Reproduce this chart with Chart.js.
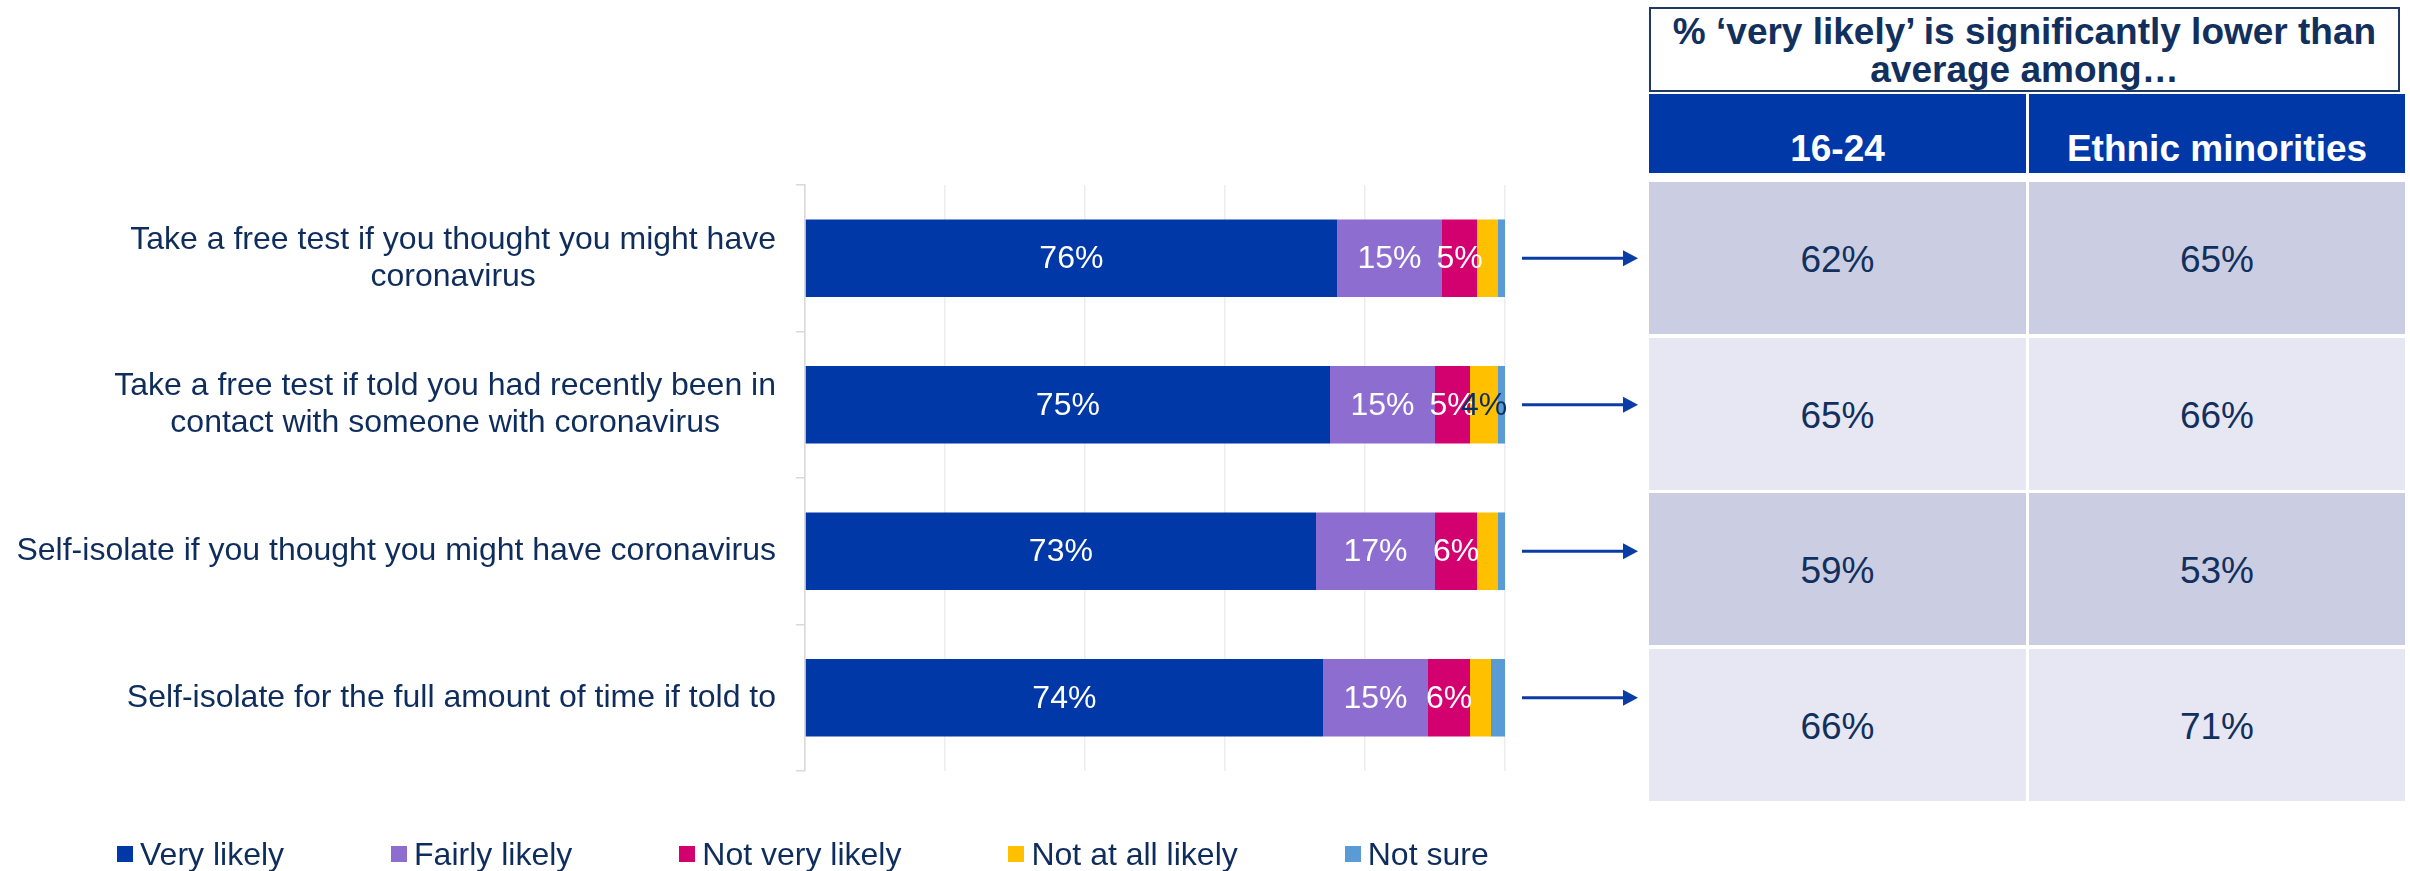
<!DOCTYPE html>
<html>
<head>
<meta charset="utf-8">
<title>Likelihood of testing and self-isolating</title>
<script src="https://cdn.jsdelivr.net/npm/chart.js@4.4.1/dist/chart.umd.min.js"></script>
<style>
  html, body { margin: 0; padding: 0; background: #fff; }
  body {
    width: 2410px; height: 871px; position: relative; overflow: hidden;
    font-family: "Liberation Sans", Arial, sans-serif; color: #0F2D5C;
  }
  #chartBox { position: absolute; left: 0; top: 0; width: 1640px; height: 871px; }

  /* legend under the bars */
  #legend { position: absolute; left: 117px; top: 838px; height: 32px; display: flex; gap: 107px; }
  .legend-item { display: flex; align-items: center; font-size: 32px; line-height: 32px; white-space: nowrap; }
  .legend-box { width: 16px; height: 16px; margin-right: 7px; flex: none; }

  /* sub-group table on the right */
  #sigTable { position: absolute; left: 1649px; top: 7px; width: 756px; }
  .sig-title {
    box-sizing: border-box; width: 751px; height: 85px; padding-top: 4px;
    border: 2.5px solid #1F3864; text-align: center;
    font-weight: bold; font-size: 37px; line-height: 38px; color: #12305E;
  }
  .sig-head, .sig-body { display: grid; grid-template-columns: 377px 376px; column-gap: 3px; }
  .sig-head { margin-top: 2px; grid-template-rows: 79px; }
  .sig-body { margin-top: 9px; grid-template-rows: repeat(4, 152px); row-gap: 3.7px; }
  .sig-head div {
    background: #0038A8; color: #fff; font-weight: bold; font-size: 37px; line-height: 40px;
    display: flex; align-items: flex-end; justify-content: center; padding-bottom: 4px; box-sizing: border-box;
  }
  .sig-body div {
    font-size: 37px; display: flex; align-items: center; justify-content: center; color: #12305E;
    padding-top: 4px; box-sizing: border-box;
  }
  .sig-body .dark { background: #CBCEE2; }
  .sig-body .light { background: #E6E7F2; }
</style>
</head>
<body>
<div id="chartBox"><canvas id="likelyChart"></canvas></div>
<div id="legend"></div>
<div id="sigTable">
  <div class="sig-title" id="sigTitle"></div>
  <div class="sig-head" id="sigHead"></div>
  <div class="sig-body" id="sigBody"></div>
</div>

<script>
// ---- data ----
const categories = [
  ['Take a free test if you thought you might have', 'coronavirus'],
  ['Take a free test if told you had recently been in', 'contact with someone with coronavirus'],
  ['Self-isolate if you thought you might have coronavirus'],
  ['Self-isolate for the full amount of time if told to']
];
const seriesNames = ['Very likely', 'Fairly likely', 'Not very likely', 'Not at all likely', 'Not sure'];
const veryLikely     = [76, 75, 73, 74];
const fairlyLikely   = [15, 15, 17, 15];
const notVeryLikely  = [5, 5, 6, 6];
const notAtAllLikely = [3, 4, 3, 3];
const notSure        = [1, 1, 1, 2];
const xTicks = [0, 20, 40, 60, 80, 100];

const tableTitleLines = ['% ‘very likely’ is significantly lower than', 'average among…'];
const groupNames = ['16-24', 'Ethnic minorities'];
const youngVeryLikely    = [62, 65, 59, 66];
const minorityVeryLikely = [65, 66, 53, 71];

// ---- styling ----
const navy = '#0F2D5C';
const seriesColors = ['#0038A8', '#8D6ED0', '#D3006F', '#FFC000', '#5B9BD5'];
const valueLabelColors = ['#ffffff', '#ffffff', '#ffffff', navy, navy];
const fontFamily = '"Liberation Sans", Arial, sans-serif';
const minLabelValue = 4;

const seriesValues = [veryLikely, fairlyLikely, notVeryLikely, notAtAllLikely, notSure];

// multi-line category labels: block right-aligned to the axis, lines centred in the block
const categoryLabels = {
  id: 'categoryLabels',
  afterDraw(chart) {
    const { ctx, chartArea } = chart;
    const y = chart.scales.y;
    const lineHeight = 37;
    const right = chartArea.left - 29;
    ctx.save();
    ctx.font = '32px ' + fontFamily;
    ctx.fillStyle = navy;
    ctx.textAlign = 'center';
    ctx.textBaseline = 'middle';
    categories.forEach((lines, i) => {
      const widest = Math.max(...lines.map(l => ctx.measureText(l).width));
      const cx = right - widest / 2;
      const top = y.getPixelForValue(i) - (lines.length - 1) * lineHeight / 2;
      lines.forEach((l, k) => ctx.fillText(l, cx, top + k * lineHeight));
    });
    ctx.restore();
  }
};

// percentage labels inside the segments
const valueLabels = {
  id: 'valueLabels',
  afterDatasetsDraw(chart) {
    const { ctx } = chart;
    ctx.save();
    ctx.font = '32px ' + fontFamily;
    ctx.textAlign = 'center';
    ctx.textBaseline = 'middle';
    chart.data.datasets.forEach((ds, d) => {
      chart.getDatasetMeta(d).data.forEach((bar, i) => {
        const v = ds.data[i];
        if (v < minLabelValue) return;
        const c = bar.getCenterPoint();
        ctx.fillStyle = valueLabelColors[d];
        ctx.fillText(v + '%', c.x, c.y + 1);
      });
    });
    ctx.restore();
  }
};

// arrows from each bar across to the table row
const rowArrows = {
  id: 'rowArrows',
  afterDatasetsDraw(chart) {
    const { ctx } = chart;
    const x = chart.scales.x, y = chart.scales.y;
    const x0 = x.right + 17;
    const x1 = chart.width - 2;
    ctx.save();
    ctx.strokeStyle = '#0A3CA6';
    ctx.fillStyle = '#0A3CA6';
    ctx.lineWidth = 3;
    categories.forEach((_, i) => {
      const py = y.getPixelForValue(i);
      ctx.beginPath();
      ctx.moveTo(x0, py);
      ctx.lineTo(x1 - 12, py);
      ctx.stroke();
      ctx.beginPath();
      ctx.moveTo(x1, py);
      ctx.lineTo(x1 - 15, py - 8);
      ctx.lineTo(x1 - 15, py + 8);
      ctx.closePath();
      ctx.fill();
    });
    ctx.restore();
  }
};

new Chart(document.getElementById('likelyChart'), {
  type: 'bar',
  data: {
    labels: categories,
    datasets: seriesNames.map((name, d) => ({
      label: name,
      data: seriesValues[d],
      backgroundColor: seriesColors[d],
      borderWidth: 0,
      barPercentage: 0.53,
      categoryPercentage: 1
    }))
  },
  options: {
    indexAxis: 'y',
    responsive: true,
    maintainAspectRatio: false,
    animation: false,
    layout: { padding: { top: 185, right: 135, bottom: 100, left: 0 } },
    plugins: {
      legend: { display: false },
      tooltip: { enabled: false }
    },
    scales: {
      x: {
        stacked: true,
        min: xTicks[0],
        max: xTicks[xTicks.length - 1],
        ticks: { display: false, stepSize: xTicks[1] - xTicks[0] },
        grid: { color: '#EDEDED', lineWidth: 1.5, drawTicks: false },
        border: { display: false },
        afterFit(s) { s.height = 0; }
      },
      y: {
        stacked: true,
        ticks: { display: false },
        grid: { drawOnChartArea: false, drawTicks: true, tickLength: 9, color: '#D9D9D9', lineWidth: 1.5, offset: true },
        border: { color: '#D9D9D9', width: 1.5 },
        afterFit(s) { s.width = 805; }
      }
    }
  },
  plugins: [categoryLabels, valueLabels, rowArrows]
});

// legend
const legendEl = document.getElementById('legend');
seriesNames.forEach((name, d) => {
  const item = document.createElement('div');
  item.className = 'legend-item';
  const box = document.createElement('span');
  box.className = 'legend-box';
  box.style.background = seriesColors[d];
  item.appendChild(box);
  item.appendChild(document.createTextNode(name));
  legendEl.appendChild(item);
});

// table
document.getElementById('sigTitle').innerHTML = tableTitleLines.join('<br>');
const head = document.getElementById('sigHead');
groupNames.forEach(g => {
  const c = document.createElement('div');
  c.textContent = g;
  head.appendChild(c);
});
const body = document.getElementById('sigBody');
categories.forEach((_, i) => {
  [youngVeryLikely[i], minorityVeryLikely[i]].forEach(v => {
    const c = document.createElement('div');
    c.className = i % 2 === 0 ? 'dark' : 'light';
    c.textContent = v + '%';
    body.appendChild(c);
  });
});
</script>
</body>
</html>
